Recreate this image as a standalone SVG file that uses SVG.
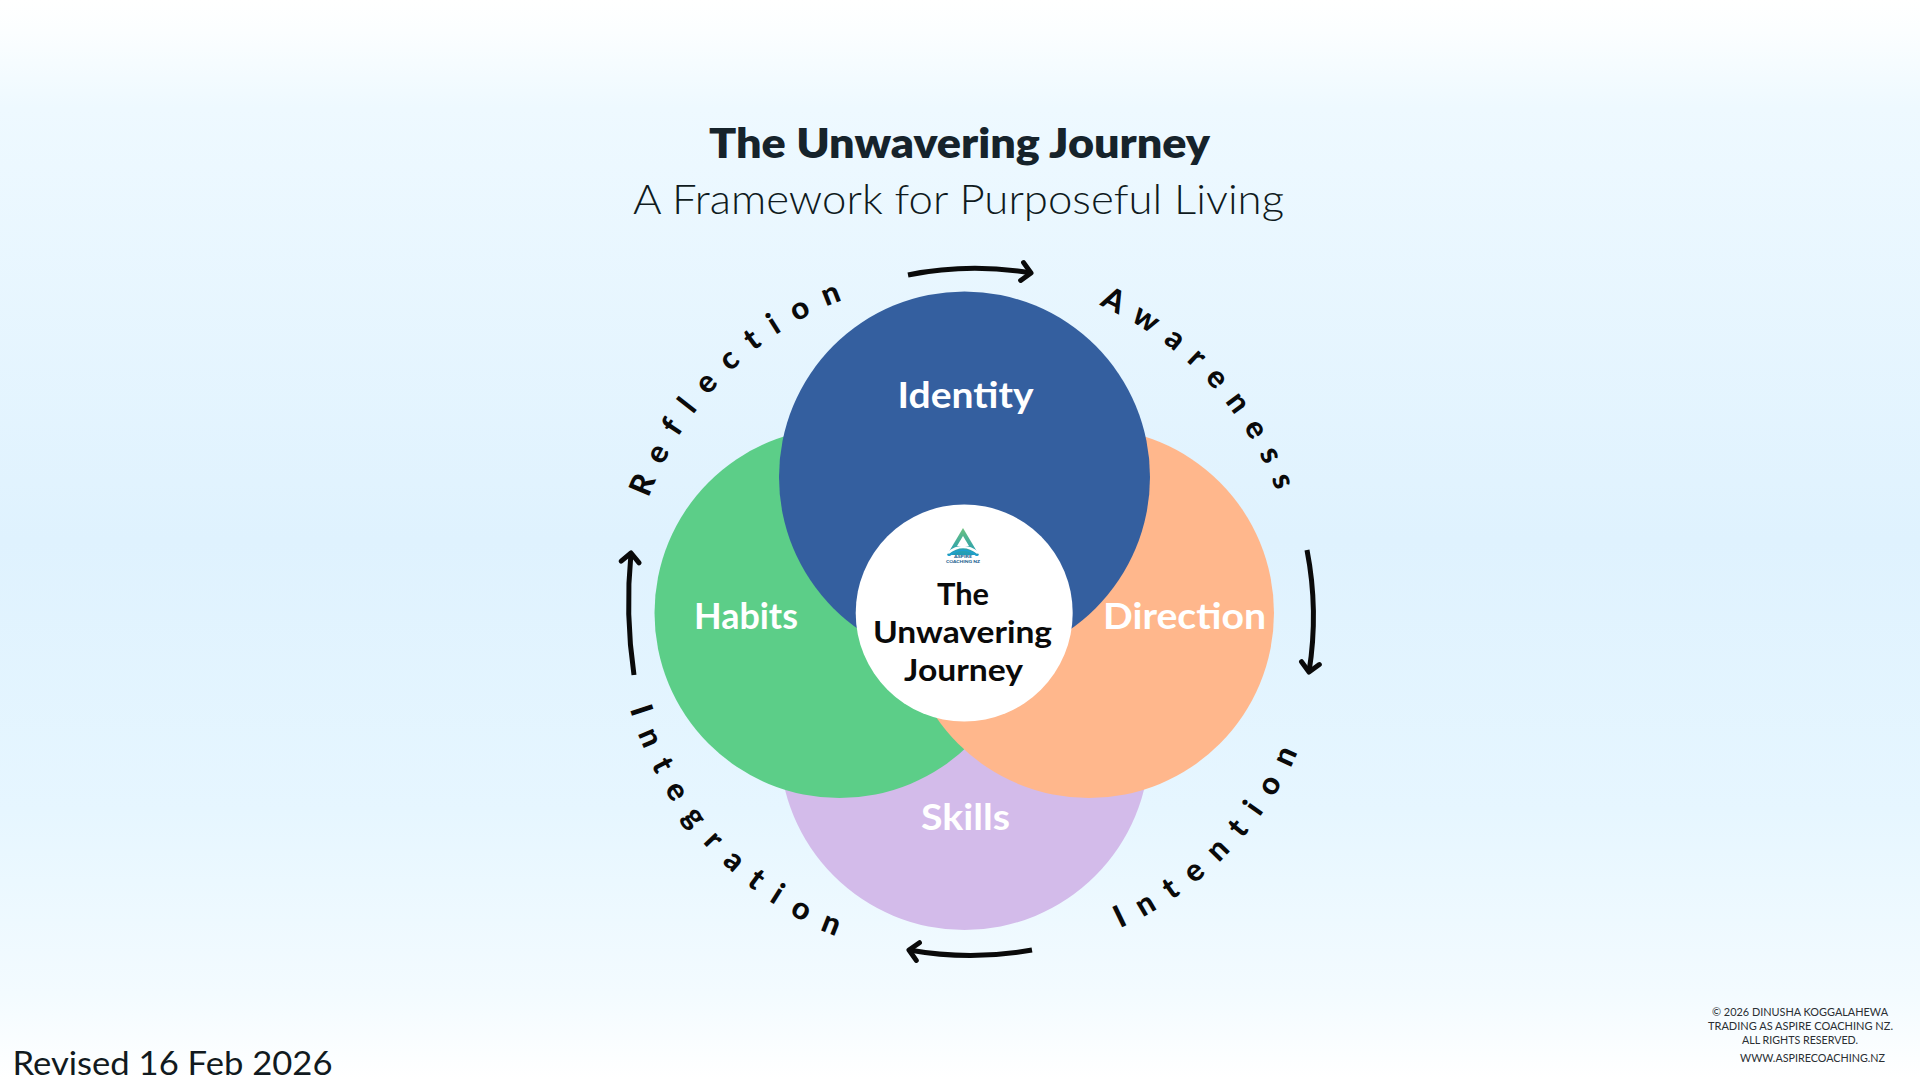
<svg xmlns="http://www.w3.org/2000/svg" width="1920" height="1080" viewBox="0 0 1920 1080">
<style>
text{font-family:"Lato","Liberation Sans",sans-serif}
.label{font-weight:700;font-size:37px;fill:#fff;text-anchor:middle}
.core{font-weight:700;font-size:31px;fill:#0a0a0a}
.title{font-size:41px;fill:#16232b}
.arc{font-weight:900;font-size:31px;fill:#0a0a0a}
.foot{font-size:11px;fill:#2a2f33}
.arrow{fill:none;stroke:#0a0a0a;stroke-width:5;stroke-linecap:butt;marker-end:url(#head)}
</style>
<defs>
<linearGradient id="bg" x1="0" y1="0" x2="0" y2="1">
<stop offset="0" stop-color="#ffffff"/><stop offset="0.03" stop-color="#fbfeff"/><stop offset="0.1" stop-color="#eef9ff"/><stop offset="0.5" stop-color="#dff2fe"/><stop offset="0.75" stop-color="#e6f6ff"/><stop offset="0.92" stop-color="#f3fbff"/><stop offset="1" stop-color="#ffffff"/>
</linearGradient>
<linearGradient id="logo" x1="0" y1="0" x2="0" y2="1">
<stop offset="0" stop-color="#6cc27e"/><stop offset="1" stop-color="#1f9bb8"/>
</linearGradient>
<marker id="head" markerUnits="userSpaceOnUse" markerWidth="30" markerHeight="30" refX="15" refY="15" orient="auto">
<path d="M6,6 L15,15 L6,24" fill="none" stroke="#0a0a0a" stroke-width="5" stroke-linecap="round" stroke-linejoin="round"/>
</marker>
<path id="p-reflection" d="M648.8,498.1 A336,336 0 0 1 877.5,288.5"/>
<path id="p-awareness" d="M1099,305.1 A336,336 0 0 1 1291,540"/>
<path id="p-integration" d="M630,708.9 A348,348 0 0 0 904.1,955.7"/>
<path id="p-intention" d="M1120,928 A350,350 0 0 0 1305,735"/>
</defs>
<rect width="1920" height="1080" fill="url(#bg)"/>
<g id="title">
<text class="title" x="709" y="158" style="font-weight:800" textLength="501" lengthAdjust="spacingAndGlyphs">The Unwavering Journey</text>
<text class="title" x="633" y="214" style="font-weight:300;fill:#0f1a20" textLength="651" lengthAdjust="spacingAndGlyphs">A Framework for Purposeful Living</text>
</g>
<g id="node-skills"><circle cx="964.5" cy="745" r="185" fill="#d3bbea"/><text class="label" x="965.5" y="830" textLength="89" lengthAdjust="spacingAndGlyphs">Skills</text></g>
<g id="node-habits"><circle cx="839.5" cy="613" r="185" fill="#5cce88"/><text class="label" x="746" y="629" textLength="104" lengthAdjust="spacingAndGlyphs">Habits</text></g>
<g id="node-direction"><circle cx="1089" cy="613" r="185" fill="#ffb78c"/><text class="label" x="1184.5" y="629" textLength="163" lengthAdjust="spacingAndGlyphs">Direction</text></g>
<g id="node-identity"><circle cx="964.5" cy="477" r="185.5" fill="#345f9f"/><text class="label" x="965.5" y="408" textLength="136" lengthAdjust="spacingAndGlyphs">Identity</text></g>
<g id="node-centre">
<circle cx="964.2" cy="613" r="108.5" fill="#fff"/>
<path d="M963,528 L979,555 L947,555 Z" fill="url(#logo)"/>
<path d="M963,536 L969,546 L957,546 Z" fill="#fff"/>
<path d="M948,553 Q963,541 978,553" fill="none" stroke="#fff" stroke-width="2.5"/>
<path d="M950,556 Q963,546 976,556 L979,556 Q963,543 947,556 Z" fill="#1f9fd0"/>
<text x="963" y="557.5" text-anchor="middle" font-size="4.5" font-weight="900" fill="#1c5f8f" textLength="18" lengthAdjust="spacingAndGlyphs">ASPIRE</text>
<text x="963" y="563" text-anchor="middle" font-size="4.5" font-weight="900" fill="#1c5f8f" textLength="34" lengthAdjust="spacingAndGlyphs">COACHING NZ</text>
<text class="core" x="937" y="605" textLength="52" lengthAdjust="spacingAndGlyphs">The</text>
<text class="core" x="873" y="643" textLength="179" lengthAdjust="spacingAndGlyphs">Unwavering</text>
<text class="core" x="904" y="681" textLength="119" lengthAdjust="spacingAndGlyphs">Journey</text>
</g>
<g id="ring-labels">
<text class="arc" letter-spacing="16"><textPath href="#p-reflection">Reflection</textPath></text>
<text class="arc" letter-spacing="14"><textPath href="#p-awareness">Awareness</textPath></text>
<text class="arc" letter-spacing="16.4"><textPath href="#p-integration">Integration</textPath></text>
<text class="arc" letter-spacing="16"><textPath href="#p-intention">Intention</textPath></text>
</g>
<g id="connectors">
<path class="arrow" d="M908,275 A344,344 0 0 1 1031,273"/>
<path class="arrow" d="M1307,550 A350,350 0 0 1 1309,672"/>
<path class="arrow" d="M1032,950 A350,350 0 0 1 909,950"/>
<path class="arrow" d="M634,675 A500,500 0 0 1 631,553"/>
</g>
<g id="footer">
<text x="12.5" y="1075" font-size="33" fill="#111a20" style="font-weight:400" textLength="320" lengthAdjust="spacingAndGlyphs">Revised 16 Feb 2026</text>
<text class="foot" x="1712" y="1015.7" textLength="176" lengthAdjust="spacingAndGlyphs">© 2026 DINUSHA KOGGALAHEWA</text>
<text class="foot" x="1708" y="1030" textLength="185" lengthAdjust="spacingAndGlyphs">TRADING AS ASPIRE COACHING NZ.</text>
<text class="foot" x="1742" y="1044" textLength="116" lengthAdjust="spacingAndGlyphs">ALL RIGHTS RESERVED.</text>
<text class="foot" x="1740" y="1062" textLength="145" lengthAdjust="spacingAndGlyphs">WWW.ASPIRECOACHING.NZ</text>
</g>
</svg>
